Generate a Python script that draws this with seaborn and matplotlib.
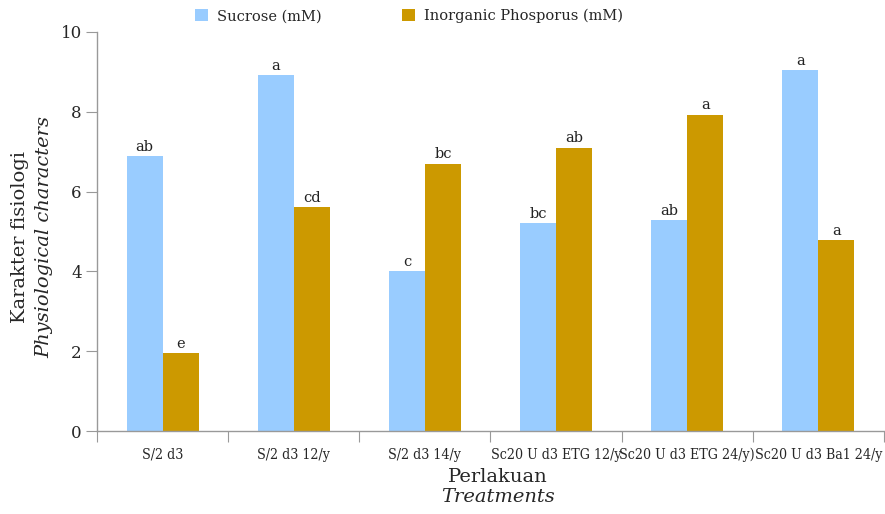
import matplotlib
matplotlib.use("Agg")
import matplotlib.pyplot as plt
import seaborn as sns
import pandas as pd

# Treatments and measured values
treatments = ["S/2 d3", "S/2 d3 12/y", "S/2 d3 14/y", "Sc20 U d3 ETG 12/y",
              "Sc20 U d3 ETG 24/y)", "Sc20 U d3 Ba1 24/y"]
sucrose = [6.88, 8.92, 4.00, 5.21, 5.28, 9.05]
phosphorus = [1.95, 5.61, 6.70, 7.10, 7.93, 4.78]
sucrose_letters = ["ab", "a", "c", "bc", "ab", "a"]
phosphorus_letters = ["e", "cd", "bc", "ab", "a", "a"]
series_names = ["Sucrose (mM)", "Inorganic Phosporus (mM)"]
y_ticks = [0, 2, 4, 6, 8, 10]

df = pd.DataFrame({
    "treatment": treatments * 2,
    "value": sucrose + phosphorus,
    "series": [series_names[0]] * len(treatments) + [series_names[1]] * len(treatments),
})

sns.set_style("white")
plt.rcParams["font.family"] = ["DejaVu Serif"]

fig = plt.figure(figsize=(8.85, 5.14), dpi=100)
ax = fig.add_axes([97 / 885, 1 - 431 / 514, (884 - 97) / 885, (431 - 32) / 514])

palette = {series_names[0]: "#99CCFF", series_names[1]: "#CC9900"}
sns.barplot(data=df, x="treatment", y="value", hue="series", palette=palette,
            width=0.55, saturation=1, ax=ax, legend=True, edgecolor="none")

# significance letters above each bar
for cont, letters in zip(ax.containers, [sucrose_letters, phosphorus_letters]):
    for bar, lab in zip(cont, letters):
        ax.text(bar.get_x() + bar.get_width() / 2, bar.get_height() + 0.06, lab,
                ha="center", va="bottom", fontsize=10.5, color="#222222")

ax.set_xlim(-0.5, len(treatments) - 0.5)
ax.set_ylim(0, 10)
ax.set_yticks(y_ticks)
ax.set_yticklabels([str(t) for t in y_ticks], fontsize=12)

# boundary ticks between groups, labels at group centers
ax.set_xticks([i - 0.5 for i in range(len(treatments) + 1)])
ax.set_xticklabels([])
ax.set_xticks(range(len(treatments)), minor=True)
ax.set_xticklabels(treatments, minor=True, fontsize=10.2, fontstretch="condensed")
ax.tick_params(axis="x", which="major", length=8, color="#999999", direction="out", bottom=True)
ax.tick_params(axis="x", which="minor", length=0, pad=12)
ax.tick_params(axis="y", length=8, color="#999999", direction="out", left=True, pad=3)

for s in ["top", "right"]:
    ax.spines[s].set_visible(False)
for s in ["left", "bottom"]:
    ax.spines[s].set_color("#999999")
    ax.spines[s].set_linewidth(1)

ax.set_xlabel("")
ax.set_ylabel("")

fig.text(20 / 885, 1 - 237 / 514, "Karakter fisiologi", rotation=90,
         ha="center", va="center", fontsize=14)
fig.text(44 / 885, 1 - 237 / 514, "Physiological characters", rotation=90,
         ha="center", va="center", fontsize=14, style="italic")
fig.text(498 / 885, 1 - 477 / 514, "Perlakuan", ha="center", va="center", fontsize=14)
fig.text(498 / 885, 1 - 497 / 514, "Treatments", ha="center", va="center",
         fontsize=14, style="italic")

handles, labels = ax.get_legend_handles_labels()
ax.legend_.remove()
fig.legend(handles, labels, loc="center left", bbox_to_anchor=(182 / 885, 1 - 16 / 514),
           ncol=2, frameon=False, fontsize=10.5, handlelength=0.9, handleheight=0.9,
           handletextpad=0.6, columnspacing=5.5)

fig.savefig("out.png", dpi=100)
